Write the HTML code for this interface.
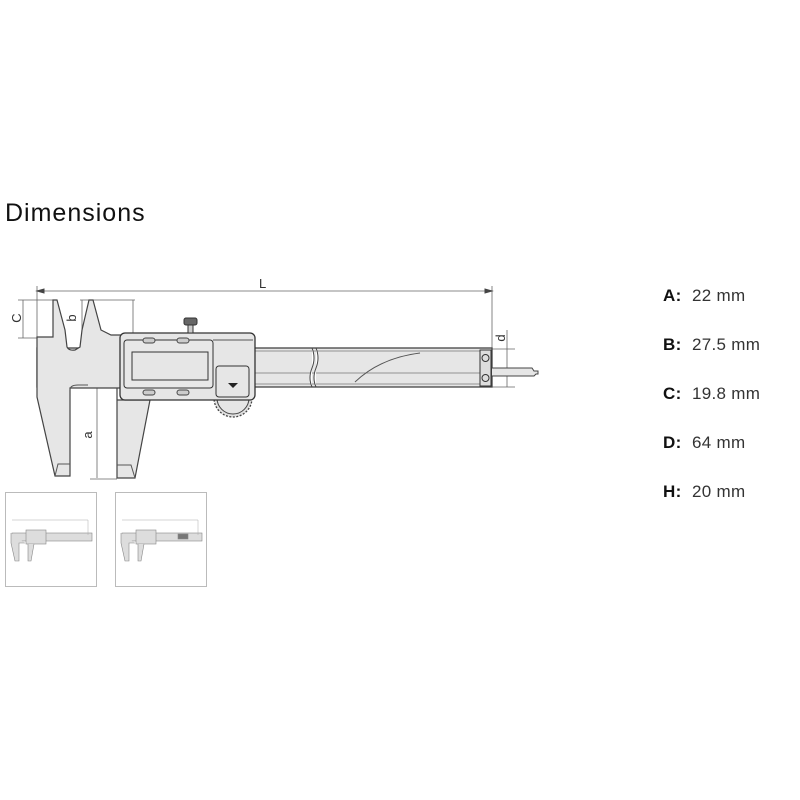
<!DOCTYPE html>
<html><head><meta charset="utf-8"><style>
body{margin:0;background:#fff;width:800px;height:800px;overflow:hidden;position:relative;font-family:"Liberation Sans",sans-serif;color:#222}
.h{position:absolute;left:5px;top:199px;font-size:25px;letter-spacing:1px;color:#111}
.r{position:absolute;left:663px;font-size:17px;letter-spacing:0.3px;color:#333}
.r b{display:inline-block;width:29px;color:#111}
.t{position:absolute;top:492px;width:92px;height:95px;border:1px solid #bbb;box-sizing:border-box}
</style></head><body>
<div class="h">Dimensions</div>
<div class="r" style="top:286px"><b>A:</b>22 mm</div>
<div class="r" style="top:335px"><b>B:</b>27.5 mm</div>
<div class="r" style="top:384px"><b>C:</b>19.8 mm</div>
<div class="r" style="top:433px"><b>D:</b>64 mm</div>
<div class="r" style="top:482px"><b>H:</b>20 mm</div>
<svg width="800" height="800" style="position:absolute;left:0;top:0" fill="none" stroke="#444" stroke-width="1">
<g font-family="Liberation Sans" font-size="13" fill="#333" stroke="none">
<text x="259" y="288">L</text>
<text transform="translate(21,318) rotate(-90)" text-anchor="middle">C</text>
<text transform="translate(76,318) rotate(-90)" text-anchor="middle">b</text>
<text transform="translate(92,435) rotate(-90)" text-anchor="middle">a</text>
<text transform="translate(505,338) rotate(-90)" text-anchor="middle">d</text>
</g>
<path d="M37 291H492M37 286V340M492 286V349" stroke="#666" stroke-width="0.8"/>
<path d="M37 291l7 -2v4zM492 291l-7 -2v4z" fill="#444"/>
<path d="M18 300H55M18 338H55M23 300V338M80 300H135M133 300V333M82 300V350M90 479H117M97 388V478M492 349H515M492 387H515M507 330V387" stroke="#666" stroke-width="0.8"/>
<rect x="37" y="348" width="455" height="39" fill="#e6e6e6" stroke="#444" stroke-width="1.3"/>
<path d="M37 351H480M37 384H480M40 373H480" stroke="#777" stroke-width="0.7"/>
<path d="M312 348q4 10 0 20q-4 10 0 19M316 348q4 10 0 20q-4 10 0 19" stroke="#444" fill="#fff"/>
<path d="M355 382Q380 358 420 353" stroke="#555"/>
<rect x="480" y="350" width="11" height="36" fill="#ddd" stroke="#333"/>
<circle cx="485.5" cy="358" r="3.5" stroke="#333"/><circle cx="485.5" cy="378" r="3.5" stroke="#333"/>
<path d="M492 368H532l2 3h4v3h-2l-2 2H492" fill="#e6e6e6" stroke="#444"/>
<path d="M37 337H53V300h4l8 30 2 17q2 4 8 3l5-3 2-17 7-30h4l8 30 10 5 23 0V388H70V476H55L37 397Z" fill="#e6e6e6" stroke="#444" stroke-width="1.2"/>
<path d="M55 476l3-12h12" stroke="#555"/>
<path d="M117 388V478H135L150 400H117" fill="#e6e6e6" stroke="#444" stroke-width="1.2"/>
<path d="M117 465h14l4 13" stroke="#555"/>
<path d="M70 390q0 -5 8-5h10" stroke="#555"/>
<circle cx="233" cy="398" r="19" fill="#e0e0e0" stroke="#444" stroke-width="1.3" stroke-dasharray="2 1.5"/>
<circle cx="233" cy="398" r="16" fill="#e6e6e6" stroke="#444"/>
<rect x="120" y="333" width="135" height="67" rx="5" fill="#e6e6e6" stroke="#333" stroke-width="1.3"/>
<rect x="124" y="340" width="89" height="48" rx="3" fill="#e8e8e8" stroke="#333"/>
<rect x="132" y="352" width="76" height="28" fill="#e6e6e6" stroke="#333"/>
<rect x="216" y="366" width="33" height="31" rx="3" fill="#e6e6e6" stroke="#333"/>
<path d="M228 383h10l-5 5z" fill="#222" stroke="none"/>
<path d="M213 340H253" stroke="#555"/>
<rect x="143" y="338" width="12" height="5" rx="2.5" fill="#ccc" stroke="#444"/>
<rect x="177" y="338" width="12" height="5" rx="2.5" fill="#ccc" stroke="#444"/>
<rect x="143" y="390" width="12" height="5" rx="2.5" fill="#ccc" stroke="#444"/>
<rect x="177" y="390" width="12" height="5" rx="2.5" fill="#ccc" stroke="#444"/>
<rect x="184" y="318" width="13" height="7" rx="2" fill="#666" stroke="#333"/>
<rect x="188" y="325" width="5" height="8" fill="#ccc" stroke="#333"/>
</svg>
<div class="t" style="left:5px"><svg width="90" height="92"><g fill="#ddd" stroke="#888" stroke-width="0.6"><rect x="6" y="40" width="80" height="8"/><rect x="20" y="37" width="20" height="14"/><path d="M5 40v10l4 18h4V50h6"/><path d="M22 51v17h3l3-17"/></g><path d="M6 27H82M82 27V42" stroke="#aaa" stroke-width="0.5"/></svg></div>
<div class="t" style="left:115px"><svg width="90" height="92"><g fill="#ddd" stroke="#888" stroke-width="0.6"><rect x="6" y="40" width="80" height="8"/><rect x="20" y="37" width="20" height="14"/><path d="M5 40v10l4 18h4V50h6"/><path d="M22 51v17h3l3-17"/><rect x="62" y="41" width="10" height="5" fill="#777"/></g><path d="M6 27H82M82 27V42" stroke="#aaa" stroke-width="0.5"/></svg></div>
</body></html>
